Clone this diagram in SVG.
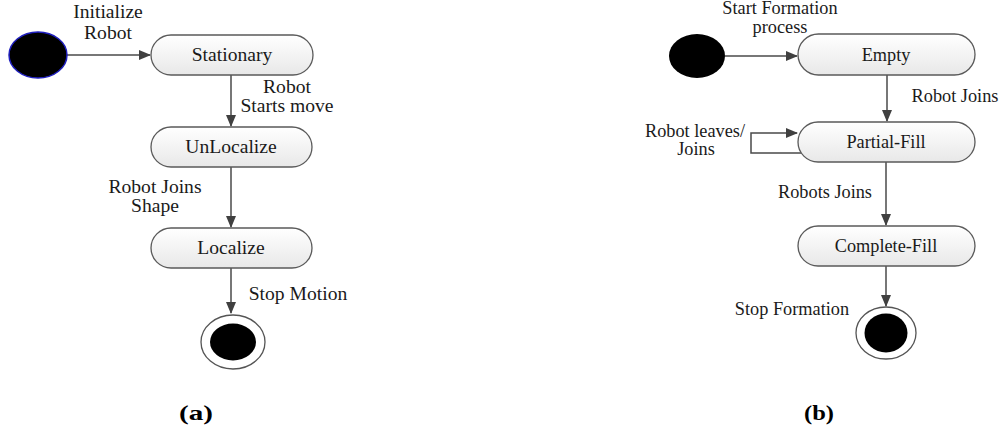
<svg xmlns="http://www.w3.org/2000/svg" width="1000" height="429" viewBox="0 0 1000 429">
<defs>
<linearGradient id="g" x1="0" y1="0" x2="0" y2="1">
<stop offset="0" stop-color="#ffffff"/>
<stop offset="1" stop-color="#e8e8e8"/>
</linearGradient>
<marker id="ah" markerWidth="12" markerHeight="10" refX="11" refY="5" orient="auto" markerUnits="userSpaceOnUse">
<path d="M0,0 L12,5 L0,10 Z" fill="#404040"/>
</marker>
<style>
.st{fill:url(#g);stroke:#5a5a5a;stroke-width:1.3}
.t{font-family:'Liberation Serif','Times New Roman','DejaVu Serif',serif;font-size:18.3px;fill:#1a1a1a;text-anchor:middle}
.ta{font-size:19.6px}
.c{fill:none;stroke:#4a4a4a;stroke-width:1.5}
.cap{font-family:'Liberation Serif','Times New Roman','DejaVu Serif',serif;font-size:22px;font-weight:bold;fill:#000;text-anchor:middle}
</style>
</defs>
<rect width="1000" height="429" fill="#fff"/>
<g id="connectors">
<line class="c" x1="67" y1="55" x2="150" y2="55" marker-end="url(#ah)"/>
<line class="c" x1="231" y1="75" x2="231" y2="126" marker-end="url(#ah)"/>
<line class="c" x1="231" y1="167" x2="231" y2="227" marker-end="url(#ah)"/>
<line class="c" x1="231" y1="268" x2="231" y2="313" marker-end="url(#ah)"/>
<line class="c" x1="725" y1="56" x2="797" y2="56" marker-end="url(#ah)"/>
<line class="c" x1="887" y1="75" x2="887" y2="121" marker-end="url(#ah)"/>
<polyline class="c" points="802,153 751,153 751,133 797,133" marker-end="url(#ah)"/>
<line class="c" x1="886" y1="162" x2="886" y2="225" marker-end="url(#ah)"/>
<line class="c" x1="886" y1="266" x2="886" y2="306" marker-end="url(#ah)"/>
</g>
<g id="labels">
<text class="t ta" x="108" y="18">Initialize</text>
<text class="t ta" x="108" y="39">Robot</text>
<text class="t ta" x="287" y="93">Robot</text>
<text class="t ta" x="287" y="112">Starts move</text>
<text class="t ta" x="155" y="193">Robot Joins</text>
<text class="t ta" x="155" y="212">Shape</text>
<text class="t ta" x="298" y="300">Stop Motion</text>
<text class="t" x="780" y="14">Start Formation</text>
<text class="t" x="780" y="33">process</text>
<text class="t" x="955" y="102">Robot Joins</text>
<text class="t" x="695" y="137">Robot leaves/</text>
<text class="t" x="696" y="155">Joins</text>
<text class="t" x="825" y="198">Robots Joins</text>
<text class="t" x="792" y="315">Stop Formation</text>
</g>
<g id="init-a"><ellipse cx="38" cy="55" rx="29" ry="23" fill="#000" stroke="#2020c0" stroke-width="1.5"/></g>
<g id="stationary"><rect class="st" x="151" y="35" width="162" height="40" rx="20"/><text class="t ta" x="232" y="61">Stationary</text></g>
<g id="unlocalize"><rect class="st" x="151" y="127" width="161" height="40" rx="20"/><text class="t ta" x="231" y="153">UnLocalize</text></g>
<g id="localize"><rect class="st" x="151" y="228" width="161" height="40" rx="20"/><text class="t ta" x="231" y="254">Localize</text></g>
<g id="final-a"><ellipse cx="233" cy="342" rx="32" ry="27" fill="#fff" stroke="#555" stroke-width="1.3"/><ellipse cx="233" cy="342" rx="23" ry="18.5" fill="#000"/></g>
<g id="init-b"><ellipse cx="697" cy="56" rx="28" ry="22" fill="#000"/></g>
<g id="empty"><rect class="st" x="798" y="34" width="177" height="41" rx="20.5"/><text class="t" x="886" y="61">Empty</text></g>
<g id="partial-fill"><rect class="st" x="798" y="122" width="177" height="40" rx="20"/><text class="t" x="886" y="148">Partial-Fill</text></g>
<g id="complete-fill"><rect class="st" x="798" y="226" width="177" height="40" rx="20"/><text class="t" x="886" y="252">Complete-Fill</text></g>
<g id="final-b"><ellipse cx="886" cy="333" rx="30" ry="26" fill="#fff" stroke="#555" stroke-width="1.3"/><ellipse cx="886" cy="333" rx="21.5" ry="19.5" fill="#000"/></g>
<g id="captions">
<text class="cap" x="196" y="420" textLength="34" lengthAdjust="spacingAndGlyphs">(a)</text>
<text class="cap" x="819" y="420" textLength="30" lengthAdjust="spacingAndGlyphs">(b)</text>
</g>
</svg>
